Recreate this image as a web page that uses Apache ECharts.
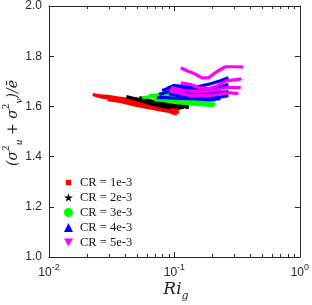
<!DOCTYPE html>
<html><head><meta charset="utf-8">
<script src="https://cdn.jsdelivr.net/npm/echarts@6/dist/echarts.min.js"></script>
<style>html,body{margin:0;padding:0;background:#fff}#c{width:312px;height:305px}</style>
</head><body><div id="c"></div>
<script>
const seriesNames = ['CR = 1e-3','CR = 2e-3','CR = 3e-3','CR = 4e-3','CR = 5e-3'];
const seriesColors = ['#ff0000','#000000','#00ff00','#0000ff','#ff00ff'];
const xTickValues = [0.01, 0.1, 1];
const yTickValues = [1.0, 1.2, 1.4, 1.6, 1.8, 2.0];
const xMinorTicks = [0.02,0.03,0.04,0.05,0.06,0.07,0.08,0.09,0.2,0.3,0.4,0.5,0.6,0.7,0.8,0.9];

const cr1Lines = [
  [[0.0223,1.647],[0.0253,1.642],[0.0293,1.640],[0.0351,1.634],[0.0421,1.628],[0.0505,1.619],[0.0606,1.612],[0.0727,1.603],[0.0872,1.600],[0.1009,1.591],[0.1126,1.592]],
  [[0.0253,1.639],[0.0315,1.632],[0.0392,1.622],[0.0487,1.612],[0.0606,1.602],[0.0754,1.596],[0.0905,1.590],[0.1085,1.583]],
  [[0.0315,1.631],[0.0399,1.620],[0.0505,1.607],[0.0629,1.600],[0.0782,1.590],[0.0938,1.584],[0.1085,1.575]],
  [[0.0293,1.627],[0.0378,1.619],[0.0478,1.606],[0.0606,1.596],[0.0754,1.587],[0.0905,1.580],[0.1047,1.569]],
  [[0.0235,1.643],[0.0304,1.636],[0.0399,1.623],[0.0524,1.612],[0.0689,1.603],[0.0872,1.596],[0.1085,1.599]]
];
const cr2Lines = [
  [[0.0414,1.639],[0.0478,1.631],[0.0574,1.624],[0.0689,1.615],[0.0826,1.611],[0.0991,1.606],[0.1189,1.599],[0.1302,1.595]],
  [[0.0478,1.631],[0.0574,1.619],[0.0689,1.611],[0.0826,1.603],[0.0991,1.599],[0.1189,1.595]],
  [[0.0524,1.635],[0.0629,1.623],[0.0754,1.615],[0.0905,1.607],[0.1085,1.603],[0.1302,1.603]],
  [[0.0574,1.619],[0.0689,1.607],[0.0826,1.599],[0.0938,1.595]]
];
const cr3Lines = [
  [[0.0554,1.635],[0.0652,1.639],[0.0782,1.631],[0.0938,1.623],[0.1189,1.615],[0.1562,1.611],[0.1944,1.611],[0.2129,1.607]],
  [[0.0629,1.643],[0.0754,1.647],[0.0905,1.639],[0.1126,1.631],[0.1426,1.623],[0.1774,1.623],[0.2129,1.623]],
  [[0.0689,1.627],[0.0826,1.623],[0.1028,1.615],[0.1302,1.611],[0.1620,1.607],[0.2053,1.603]],
  [[0.0754,1.651],[0.0872,1.651],[0.1028,1.643],[0.1302,1.635],[0.1711,1.631],[0.2053,1.635]]
];
const cr4Lines = [
  [[0.0754,1.647],[0.0905,1.659],[0.1126,1.655],[0.1426,1.651],[0.1874,1.651],[0.2332,1.655],[0.2697,1.659]],
  [[0.0797,1.663],[0.0938,1.675],[0.1189,1.671],[0.1506,1.667],[0.1944,1.671],[0.2463,1.683],[0.2697,1.687]],
  [[0.0872,1.671],[0.0991,1.683],[0.1256,1.679],[0.1562,1.679],[0.1944,1.690],[0.2332,1.702],[0.2697,1.714]],
  [[0.0905,1.651],[0.1085,1.643],[0.1350,1.639],[0.1711,1.635],[0.2168,1.635],[0.2697,1.643]],
  [[0.0727,1.635],[0.0872,1.635],[0.1085,1.631],[0.1426,1.631],[0.1874,1.627],[0.2332,1.631]]
];
const cr5Lines = [
  [[0.1126,1.754],[0.1256,1.742],[0.1453,1.730],[0.1650,1.714],[0.1874,1.714],[0.2168,1.738],[0.2553,1.758],[0.2954,1.758],[0.3544,1.757]],
  [[0.1126,1.694],[0.1350,1.687],[0.1562,1.675],[0.1874,1.671],[0.2129,1.679],[0.2600,1.702],[0.3417,1.710]],
  [[0.0938,1.675],[0.1189,1.663],[0.1562,1.659],[0.2129,1.663],[0.2600,1.675],[0.3382,1.675]],
  [[0.0905,1.663],[0.1350,1.643],[0.1874,1.643],[0.2129,1.647],[0.2697,1.655],[0.3236,1.651]]
];
const allLines = [cr1Lines, cr2Lines, cr3Lines, cr4Lines, cr5Lines];
const legendIcons = ['path://M20,20 L80,20 L80,80 L20,80 Z M0,0 M100,100',
  'path://M50,0 L61,35 L98,35 L68,57 L79,91 L50,70 L21,91 L32,57 L2,35 L39,35 Z',
  'circle','triangle','path://M0,0 L100,0 L50,87 Z'];

const axisColor = '#262626';
const series = [];
allLines.forEach((lines, i) => {
  lines.forEach(line => {
    series.push({
      name: seriesNames[i], type: 'line', data: line, showSymbol: false, symbol: 'none',
      lineStyle: {color: seriesColors[i], width: 3.2}, itemStyle: {color: seriesColors[i]},
      silent: true, animation: false
    });
  });
});
// minor ticks of the log x axis (bottom and top, pointing inward)
series.push({
  type: 'custom', silent: true, z: 10, clip: false,
  data: xMinorTicks.map(v => [v, 1]),
  renderItem: (params, api) => {
    const b = api.coord([api.value(0), 1]);
    const t = api.coord([api.value(0), 2]);
    const x = Math.round(b[0]) + 0.5;
    return {type: 'group', children: [
      {type: 'line', shape: {x1: x, y1: b[1], x2: x, y2: b[1] - 3}, style: {stroke: axisColor, lineWidth: 1}},
      {type: 'line', shape: {x1: x, y1: t[1], x2: x, y2: t[1] + 3}, style: {stroke: axisColor, lineWidth: 1}}
    ]};
  }
});

const chart = echarts.init(document.getElementById('c'), null, {renderer: 'canvas'});
chart.setOption({
  animation: false,
  backgroundColor: '#fff',
  grid: {left: 49, top: 5, right: 10, bottom: 48, containLabel: false, show: false},
  xAxis: [
    {type: 'log', logBase: 10, min: 0.01, max: 1, position: 'bottom',
     axisLine: {show: true, onZero: false, lineStyle: {color: axisColor, width: 1}},
     axisTick: {show: true, inside: true, length: 5, lineStyle: {color: axisColor}},
     splitLine: {show: false},
     axisLabel: {margin: 6, color: axisColor,
       formatter: v => '{b|10}{s|' + Math.round(Math.log10(v)) + '}',
       rich: {b: {fontSize: 12, fontFamily: 'Liberation Sans', color: axisColor, verticalAlign: 'bottom', lineHeight: 16},
              s: {fontSize: 9, fontFamily: 'Liberation Sans', color: axisColor, verticalAlign: 'top', lineHeight: 16}}}},
    {type: 'log', logBase: 10, min: 0.01, max: 1, position: 'top',
     axisLine: {show: true, onZero: false, lineStyle: {color: axisColor, width: 1}},
     axisTick: {show: true, inside: true, length: 5, lineStyle: {color: axisColor}},
     splitLine: {show: false}, axisLabel: {show: false}}
  ],
  yAxis: [
    {type: 'value', min: 1, max: 2, interval: 0.2, position: 'left',
     axisLine: {show: true, onZero: false, lineStyle: {color: axisColor, width: 1}},
     axisTick: {show: true, inside: true, length: 5, lineStyle: {color: axisColor}},
     splitLine: {show: false},
     axisLabel: {margin: 7, color: axisColor, fontSize: 12, fontFamily: 'Liberation Sans', formatter: v => v.toFixed(1)}},
    {type: 'value', min: 1, max: 2, interval: 0.2, position: 'right',
     axisLine: {show: true, onZero: false, lineStyle: {color: axisColor, width: 1}},
     axisTick: {show: true, inside: true, length: 5, lineStyle: {color: axisColor}},
     splitLine: {show: false}, axisLabel: {show: false}}
  ],
  legend: {
    orient: 'vertical', left: 64, top: 176, padding: 0, itemWidth: 9, itemHeight: 9, itemGap: 2,
    data: seriesNames.map((n, i) => ({name: n, icon: legendIcons[i]})),
    textStyle: {fontFamily: 'Liberation Serif', fontSize: 12.5, color: '#111', padding: [0,0,0,2], lineHeight: 12},
    selectedMode: false
  },
  graphic: [
    {type: 'text', x: 13, y: 123, rotation: Math.PI/2,
     style: {text: '{m|(σ}{sp|2}{sb|u}{m| + σ}{sp|2}{sb|v}{m|)/ē}', textAlign: 'center', textVerticalAlign: 'middle',
       rich: {m: {fontFamily: 'DejaVu Serif', fontStyle: 'italic', fontSize: 14, fill: '#222', lineHeight: 22, verticalAlign: 'middle'},
              sp: {fontFamily: 'DejaVu Serif', fontSize: 9, fill: '#222', lineHeight: 22, verticalAlign: 'top'},
              sb: {fontFamily: 'DejaVu Serif', fontStyle: 'italic', fontSize: 9, fill: '#222', lineHeight: 22, verticalAlign: 'bottom'}}}},
    {type: 'text', x: 176, y: 290,
     style: {text: '{m|Ri}{sb|g}', textAlign: 'center', textVerticalAlign: 'middle',
       rich: {m: {fontFamily: 'DejaVu Serif', fontStyle: 'italic', fontSize: 17, fill: '#222', lineHeight: 24, verticalAlign: 'middle'},
              sb: {fontFamily: 'DejaVu Serif', fontStyle: 'italic', fontSize: 11, fill: '#222', lineHeight: 24, verticalAlign: 'bottom'}}}}
  ],
  series: series
});
</script></body></html>
